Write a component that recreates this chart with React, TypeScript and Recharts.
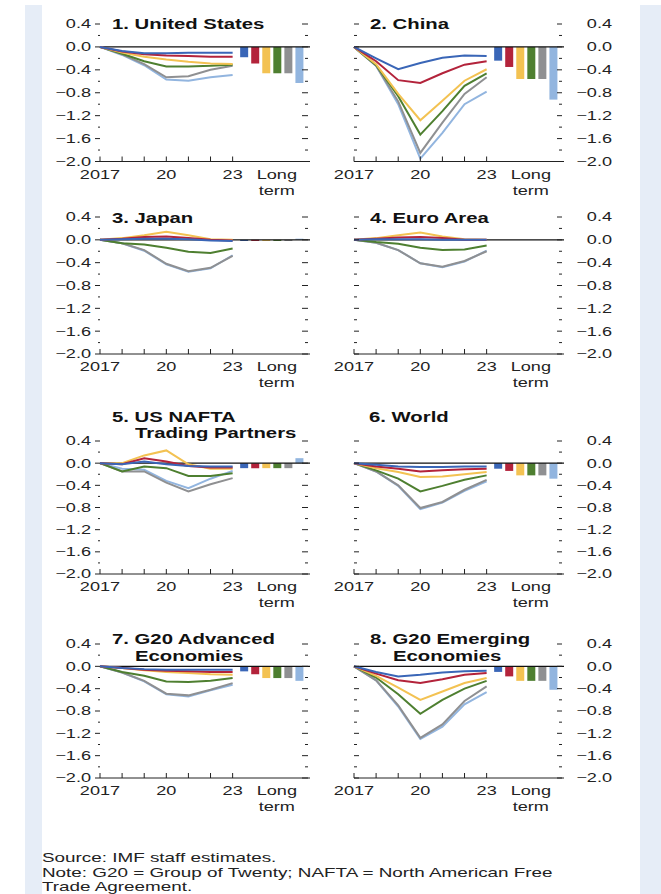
import React from "react";
import { ComposedChart, Line, Bar, Cell, XAxis, YAxis, ReferenceLine } from "recharts";

// shared
const YEARS = [2017, 2018, 2019, 2020, 2021, 2022, 2023];
const SERIES = ["blue", "red", "yellow", "green", "gray", "lightBlue"];
const COLORS: Record<string, string> = {
  blue: "#3a66b7",
  red: "#b3233b",
  yellow: "#f3c252",
  green: "#4e7f30",
  gray: "#8f9092",
  lightBlue: "#92b5df",
};
// long-term bars sit after 2023, half a year apart
const LONG_TERM_X = [6.5, 7, 7.5, 8, 8.5, 9];
const Y_TICKS = [-2, -1.8, -1.6, -1.4, -1.2, -1, -0.8, -0.6, -0.4, -0.2, 0, 0.2, 0.4];
const X_TICKS = [0, 1, 2, 3, 4, 5, 6, 8];
const X_LABELS: Record<number, string[]> = { 0: ["2017"], 3: ["20"], 6: ["23"], 8: ["Long", "term"] };

// 1. United States
const US_LINES = {
  blue: [0, -0.07, -0.11, -0.11, -0.1, -0.1, -0.1],
  red: [0, -0.08, -0.13, -0.15, -0.16, -0.17, -0.17],
  yellow: [0, -0.1, -0.17, -0.22, -0.26, -0.29, -0.3],
  green: [0, -0.12, -0.25, -0.34, -0.34, -0.33, -0.31],
  gray: [0, -0.13, -0.3, -0.53, -0.51, -0.4, -0.33],
  lightBlue: [0, -0.14, -0.32, -0.57, -0.59, -0.53, -0.49],
};
const US_LONG = [-0.18, -0.29, -0.46, -0.46, -0.46, -0.63];

// 2. China
const CHINA_LINES = {
  blue: [0, -0.2, -0.39, -0.28, -0.19, -0.15, -0.16],
  red: [0, -0.25, -0.58, -0.63, -0.46, -0.31, -0.25],
  yellow: [0, -0.3, -0.82, -1.28, -0.94, -0.59, -0.39],
  green: [0, -0.32, -0.86, -1.53, -1.12, -0.68, -0.46],
  gray: [0, -0.33, -0.95, -1.85, -1.32, -0.82, -0.53],
  lightBlue: [0, -0.33, -1.0, -1.95, -1.5, -1.0, -0.78],
};
const CHINA_LONG = [-0.24, -0.35, -0.56, -0.56, -0.56, -0.92];

// 3. Japan
const JAPAN_LINES = {
  blue: [0, 0.01, 0.02, 0.02, 0.01, -0.01, -0.02],
  red: [0, 0.02, 0.05, 0.06, 0.03, 0, -0.01],
  yellow: [0, 0.03, 0.08, 0.14, 0.08, 0.01, 0],
  green: [0, -0.06, -0.08, -0.14, -0.21, -0.23, -0.15],
  gray: [0, -0.06, -0.18, -0.42, -0.55, -0.49, -0.28],
  lightBlue: [0, -0.06, -0.19, -0.43, -0.56, -0.5, -0.27],
};
const JAPAN_LONG = [-0.02, -0.02, -0.02, -0.02, -0.02, 0.02];

// 4. Euro Area
const EURO_LINES = {
  blue: [0, 0.01, 0.01, 0.01, 0, 0, 0],
  red: [0, 0.02, 0.04, 0.05, 0.03, 0, 0],
  yellow: [0, 0.03, 0.08, 0.13, 0.06, 0.01, 0],
  green: [0, -0.04, -0.07, -0.14, -0.18, -0.17, -0.1],
  gray: [0, -0.05, -0.18, -0.41, -0.47, -0.37, -0.2],
  lightBlue: [0, -0.05, -0.18, -0.41, -0.48, -0.38, -0.19],
};
const EURO_LONG = [0, 0, 0, 0, 0, 0];

// 5. US NAFTA trading partners
const NAFTA_LINES = {
  blue: [0, -0.02, 0.03, -0.02, -0.05, -0.06, -0.06],
  red: [0, -0.02, 0.09, 0.03, -0.05, -0.08, -0.08],
  yellow: [0, 0, 0.14, 0.23, -0.02, -0.1, -0.1],
  green: [0, -0.15, -0.06, -0.09, -0.23, -0.23, -0.18],
  gray: [0, -0.15, -0.15, -0.35, -0.51, -0.38, -0.27],
  lightBlue: [0, -0.1, -0.12, -0.32, -0.45, -0.28, -0.14],
};
const NAFTA_LONG = [-0.09, -0.09, -0.09, -0.09, -0.09, 0.09];

// 6. World
const WORLD_LINES = {
  blue: [0, -0.03, -0.06, -0.07, -0.07, -0.06, -0.06],
  red: [0, -0.06, -0.1, -0.15, -0.13, -0.11, -0.1],
  yellow: [0, -0.09, -0.16, -0.25, -0.24, -0.2, -0.16],
  green: [0, -0.13, -0.28, -0.51, -0.41, -0.3, -0.22],
  gray: [0, -0.15, -0.4, -0.81, -0.7, -0.48, -0.3],
  lightBlue: [0, -0.15, -0.41, -0.83, -0.71, -0.5, -0.33],
};
const WORLD_LONG = [-0.1, -0.14, -0.22, -0.22, -0.22, -0.28];

// 7. G20 advanced
const ADV_LINES = {
  blue: [0, -0.03, -0.05, -0.06, -0.06, -0.06, -0.06],
  red: [0, -0.03, -0.06, -0.08, -0.09, -0.1, -0.1],
  yellow: [0, -0.03, -0.07, -0.1, -0.12, -0.14, -0.15],
  green: [0, -0.1, -0.17, -0.27, -0.28, -0.26, -0.21],
  gray: [0, -0.11, -0.26, -0.49, -0.52, -0.42, -0.3],
  lightBlue: [0, -0.11, -0.27, -0.5, -0.54, -0.43, -0.33],
};
const ADV_LONG = [-0.09, -0.14, -0.21, -0.21, -0.21, -0.26];

// 8. G20 emerging
const EM_LINES = {
  blue: [0, -0.1, -0.18, -0.15, -0.11, -0.09, -0.08],
  red: [0, -0.13, -0.25, -0.3, -0.23, -0.15, -0.12],
  yellow: [0, -0.17, -0.38, -0.6, -0.45, -0.3, -0.21],
  green: [0, -0.2, -0.5, -0.85, -0.6, -0.4, -0.26],
  gray: [0, -0.25, -0.7, -1.28, -1.04, -0.62, -0.36],
  lightBlue: [0, -0.25, -0.72, -1.3, -1.08, -0.68, -0.46],
};
const EM_LONG = [-0.1, -0.18, -0.26, -0.26, -0.26, -0.42];

const FONT = '"Liberation Sans", Arial, sans-serif';
const STRETCH = 1.45;
const INK = "#222";
const PLOT_W = 210;

// y pixel of the 0.4 and -2.0 gridlines for each row
const ROWS = [
  { top: 23.5, bottom: 161 },
  { top: 217, bottom: 354 },
  { top: 441, bottom: 574 },
  { top: 644, bottom: 778 },
];

const PANELS = [
  { row: 0, col: 0, title: [["1. United States", 112, 23.5]], lines: US_LINES, long: US_LONG },
  { row: 0, col: 1, title: [["2. China", 370, 24]], lines: CHINA_LINES, long: CHINA_LONG },
  { row: 1, col: 0, title: [["3. Japan", 112, 218]], lines: JAPAN_LINES, long: JAPAN_LONG },
  { row: 1, col: 1, title: [["4. Euro Area", 370, 218]], lines: EURO_LINES, long: EURO_LONG },
  { row: 2, col: 0, title: [["5. US NAFTA", 112, 417], ["Trading Partners", 135, 433]], lines: NAFTA_LINES, long: NAFTA_LONG },
  { row: 2, col: 1, title: [["6. World", 369, 417]], lines: WORLD_LINES, long: WORLD_LONG },
  { row: 3, col: 0, title: [["7. G20 Advanced", 112, 639], ["Economies", 135, 656]], lines: ADV_LINES, long: ADV_LONG },
  { row: 3, col: 1, title: [["8. G20 Emerging", 370, 639], ["Economies", 393, 656]], lines: EM_LINES, long: EM_LONG },
];

function buildRows(lines: Record<string, number[]>, longTerm: number[]) {
  const rows: any[] = YEARS.map((_, i) => {
    const r: any = { x: i };
    SERIES.forEach((s) => (r[s] = lines[s][i]));
    return r;
  });
  LONG_TERM_X.forEach((x, i) => rows.push({ x, lt: longTerm[i], series: SERIES[i] }));
  return rows;
}

function fmt(v: number) {
  const s = Math.abs(v).toFixed(1);
  return v < -0.001 ? "\u2212" + s : s;
}

function isMajor(v: number) {
  return Math.round(v * 10) % 4 === 0;
}

function Label({ x, y, anchor, children }: any) {
  return (
    <text
      transform={`translate(${x},${y}) scale(${STRETCH},1)`}
      textAnchor={anchor}
      dominantBaseline="central"
      fontSize={12.5}
      fontFamily={FONT}
      fill={INK}
    >
      {children}
    </text>
  );
}

// one renderer draws tick marks on both sides of the plot, labels on the outer side
function yTick(leftPanel: boolean) {
  return (props: any) => {
    const { x, y, payload } = props;
    const v = payload.value;
    const major = isMajor(v);
    const r = x + PLOT_W;
    if (leftPanel) {
      return (
        <g>
          <line x1={x - (major ? 5 : 2)} x2={x} y1={y} y2={y} stroke={INK} />
          <line x1={r - (major ? 8 : 5)} x2={r - 2} y1={y} y2={y} stroke={INK} />
          {major && <Label x={x - 9} y={y} anchor="end">{fmt(v)}</Label>}
        </g>
      );
    }
    return (
      <g>
        <line x1={x} x2={x + (major ? 5 : 3)} y1={y} y2={y} stroke={INK} />
        <line x1={r - (major ? 7 : 5)} x2={r - 2} y1={y} y2={y} stroke={INK} />
        {major && <Label x={r + 48} y={y} anchor="end">{fmt(v)}</Label>}
      </g>
    );
  };
}

function xTick(props: any) {
  const { x, y, payload } = props;
  const v = payload.value;
  const labels = X_LABELS[v] || [];
  return (
    <g>
      {v <= 6 && <line x1={x} x2={x} y1={y} y2={y - 5} stroke={INK} />}
      {labels.map((t, i) => (
        <Label key={t} x={x} y={y + 13 + i * 16} anchor="middle">
          {t}
        </Label>
      ))}
    </g>
  );
}

function Panel({ p }: { p: any }) {
  const left = p.col === 0;
  const row = ROWS[p.row];
  const h = row.bottom - row.top;
  const data = buildRows(p.lines, p.long);
  const drawOrder = ["lightBlue", "gray", "green", "yellow", "red", "blue"];
  const axisW = left ? 100 : 24;
  const rightM = left ? 20 : 66;
  return (
    <>
      <div style={{ position: "absolute", left: left ? 0 : 330, top: row.top - 10 }}>
        <ComposedChart
          width={axisW + PLOT_W + rightM}
          height={h + 10 + 45}
          data={data}
          margin={{ top: 10, right: rightM, bottom: 0, left: 0 }}
          style={{ overflow: "visible" }}
        >
          <XAxis
            type="number"
            dataKey="x"
            domain={[0, 9.5]}
            ticks={X_TICKS}
            interval={0}
            tickSize={0}
            tickMargin={0}
            height={45}
            axisLine={{ stroke: INK, strokeWidth: 1 }}
            tickLine={false}
            tick={xTick}
          />
          <YAxis
            type="number"
            domain={[-2, 0.4]}
            ticks={Y_TICKS}
            interval={0}
            width={axisW}
            axisLine={false}
            tickLine={false}
            tickSize={0}
            tickMargin={0}
            tick={yTick(left)}
          />
          <ReferenceLine y={0} stroke="#111" strokeWidth={1.2} />
          <Bar dataKey="lt" barSize={8} isAnimationActive={false}>
            {data.map((d, i) => (
              <Cell key={i} fill={d.series ? COLORS[d.series] : "none"} />
            ))}
          </Bar>
          {drawOrder.map((s) => (
            <Line
              key={s}
              dataKey={s}
              stroke={COLORS[s]}
              strokeWidth={2}
              dot={false}
              isAnimationActive={false}
            />
          ))}
        </ComposedChart>
      </div>
      {p.title.map(([t, tx, ty]: any) => (
        <div
          key={t}
          style={{
            position: "absolute",
            left: tx,
            top: ty - 8,
            height: 16,
            lineHeight: "16px",
            fontSize: 14,
            fontWeight: "bold",
            fontFamily: FONT,
            color: "#111",
            whiteSpace: "nowrap",
            transform: `scaleX(${STRETCH})`,
            transformOrigin: "left center",
          }}
        >
          {t}
        </div>
      ))}
    </>
  );
}

const NOTES = [
  "Source: IMF staff estimates.",
  "Note: G20 = Group of Twenty; NAFTA = North American Free",
  "Trade Agreement.",
];

export default function App() {
  return (
    <div
      style={{
        position: "absolute",
        left: 0,
        top: 0,
        width: 661,
        height: 894,
        background: "#fff",
        overflow: "hidden",
        fontFamily: FONT,
      }}
    >
      <div style={{ position: "absolute", left: 25, top: 5, width: 17, height: 889, background: "#e6edf7" }} />
      <div style={{ position: "absolute", left: 640, top: 5, width: 21, height: 889, background: "#e6edf7" }} />
      {PANELS.map((p, i) => (
        <Panel key={i} p={p} />
      ))}
      {NOTES.map((n, i) => (
        <div
          key={i}
          style={{
            position: "absolute",
            left: 42,
            top: 850 + i * 14.5,
            lineHeight: "15px",
            fontSize: 13,
            color: "#222",
            whiteSpace: "nowrap",
            transform: `scaleX(${STRETCH})`,
            transformOrigin: "left center",
          }}
        >
          {n}
        </div>
      ))}
    </div>
  );
}
